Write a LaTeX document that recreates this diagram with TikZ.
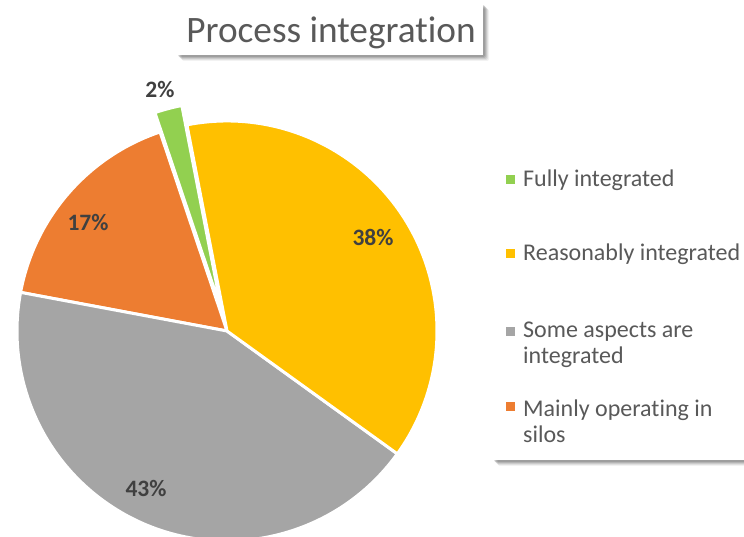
\documentclass[tikz,border=0pt]{standalone}
\usepackage{fontspec}
\setmainfont[Ligatures=NoCommon]{Carlito}
\usetikzlibrary{calc}
\definecolor{cgreen}{HTML}{92D050}
\definecolor{cyellow}{HTML}{FFC000}
\definecolor{cgray}{HTML}{A5A5A5}
\definecolor{corange}{HTML}{ED7D31}
\definecolor{ctext}{HTML}{595959}
\definecolor{clabel}{HTML}{404040}
\tikzset{
  slice/.style={draw=white, line width=3pt, line join=round},
  pct/.style={text=clabel, font=\fontsize{23.5}{26}\selectfont\bfseries, inner sep=0pt},
  legtext/.style={text=ctext, font=\fontsize{24}{26}\selectfont, align=left, anchor=west, inner sep=0pt},
  legmark/.style={minimum size=9pt, inner sep=0pt, draw=none},
  panel/.style={fill=white, draw=none},
}
\begin{document}
\begin{tikzpicture}[x=1pt,y=1pt]
\useasboundingbox (0,0) rectangle (744,537);
\fill[white] (0,0) rectangle (744,537);
\begin{scope}
\clip (0,0) rectangle (744,537);
% pie
\coordinate (c) at (227,206);
\fill[corange,slice] (c) -- ++(169.4:210) arc[start angle=169.4, end angle=108.6, radius=210] -- cycle;
\fill[cgray,slice] (c) -- ++(-35.8:210) arc[start angle=-35.8, end angle=-190.6, radius=210] -- cycle;
\fill[cyellow,slice] (c) -- ++(101:210) arc[start angle=101, end angle=-35.8, radius=210] -- cycle;
\coordinate (cg) at ($(c)+(104.8:20)$);
\fill[cgreen,slice] (cg) -- ++(108.6:210) arc[start angle=108.6, end angle=101, radius=210] -- cycle;
\node[pct] (l2) at (160,447) {2\%};
\node[pct] (l17) at (88,314) {17\%};
\node[pct] (l38) at (373,300) {38\%};
\node[pct] (l43) at (146,48) {43\%};
% title box with shadow
\foreach \i/\o in {6/0.05,5/0.07,4/0.09,3/0.11,2/0.12}{
  \fill[black,opacity=\o,rounded corners=2pt] (177+\i-1,534-\i) rectangle (483+\i,482-\i);
}
\node[panel, minimum width=306pt, minimum height=52pt, inner sep=0pt] (titlebox) at (330,508) {};
\node[text=ctext, font=\fontsize{37.3}{40}\selectfont, inner sep=0pt] (title) at (331,504) {Process integration};
% legend box with shadow
\foreach \i/\o in {6/0.05,5/0.07,4/0.09,3/0.11,2/0.12}{
  \fill[black,opacity=\o,rounded corners=2pt] (493+\i-1,382-\i) rectangle (780,77-\i);
}
\fill[panel] (493,382) rectangle (780,77);
\node[legmark, fill=cgreen] (m1) at (510.5,357) {};
\node[legtext] (t1) at (523,357) {Fully integrated};
\node[legmark, fill=cyellow] (m2) at (510.5,283) {};
\node[legtext] (t2) at (523,283) {Reasonably integrated};
\node[legmark, fill=cgray] (m3) at (510.5,205) {};
\node[legtext] (t3) at (523,192) {Some aspects are\\integrated};
\node[legmark, fill=corange] (m4) at (510.5,130) {};
\node[legtext] (t4) at (523,116) {Mainly operating in\\silos};
\end{scope}
\end{tikzpicture}
\end{document}
